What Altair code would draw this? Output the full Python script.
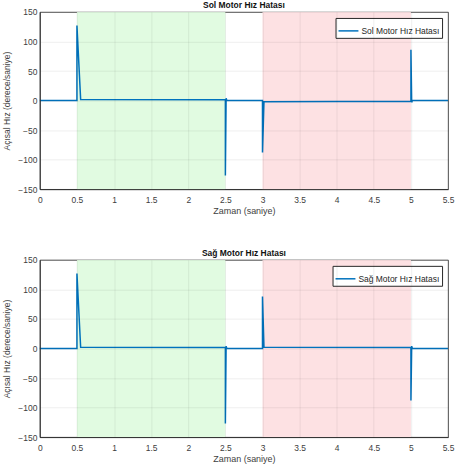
import altair as alt
import pandas as pd

# Time points and values
t_sol = [0.0, 0.5, 0.5, 0.55, 2.5, 2.5, 2.51, 2.52, 3.0, 3.0, 3.02, 5.0, 5.0, 5.01, 5.02, 5.5]
v_sol = [0.0, 0.0, 127, 2.0, 1.5, -127, 4.0, 0.0, 0.0, -88, -2.0, -1.0, 86, -3.0, 0.0, 0.0]

t_sag = [0.0, 0.5, 0.5, 0.55, 2.5, 2.5, 2.51, 2.52, 3.0, 3.0, 3.02, 5.0, 5.0, 5.01, 5.02, 5.5]
v_sag = [0.0, 0.0, 127, 2.0, 1.5, -127, 4.0, 0.0, 0.0, 88, 2.0, 1.5, -88, 4.0, 0.0, 0.0]

region_start = [0.5, 3.0]
region_end = [2.5, 5.0]
region_color = ["#e1fbe1", "#fde1e3"]

x_ticks = [0, 0.5, 1, 1.5, 2, 2.5, 3, 3.5, 4, 4.5, 5, 5.5]
y_ticks = [-150, -100, -50, 0, 50, 100, 150]

FONT = "Liberation Sans"
TXT = "#404040"

regions = pd.DataFrame({"x": region_start, "x2": region_end, "c": region_color})


def panel(title, t, v, name):
    df = pd.DataFrame({"t": t, "v": v, "s": [name] * len(t), "i": list(range(len(t)))})
    xscale = alt.Scale(domain=[0, 5.5], nice=False, zero=False)
    yscale = alt.Scale(domain=[-150, 150], nice=False)
    xaxis = alt.Axis(values=x_ticks, title="Zaman (saniye)", grid=True, labelFlush=False,
                     format="~g", tickSize=0, labelPadding=6, titlePadding=3, zindex=1)
    yaxis = alt.Axis(values=y_ticks, title="Açısal Hız (derece/saniye)", grid=True,
                     tickSize=0, labelPadding=3, titlePadding=6, zindex=1)
    rects = alt.Chart(regions).mark_rect().encode(
        x=alt.X("x:Q", scale=xscale, axis=xaxis),
        x2="x2:Q",
        y=alt.value(0),
        y2=alt.value(178),
        color=alt.Color("c:N", scale=None, legend=None),
    )
    line = alt.Chart(df).mark_line(strokeWidth=1.5, interpolate="linear").encode(
        x=alt.X("t:Q", scale=xscale, axis=xaxis),
        y=alt.Y("v:Q", scale=yscale, axis=yaxis),
        order=alt.Order("i:Q"),
        color=alt.Color("s:N", scale=alt.Scale(range=["#0072BD"]),
                        legend=alt.Legend(title=None, orient="top-right", offset=6,
                                          symbolType="stroke", symbolSize=400,
                                          symbolStrokeWidth=1.5,
                                          labelFont=FONT, labelFontSize=8.5,
                                          labelColor="#262626",
                                          strokeColor="#262626", fillColor="white",
                                          padding=2, cornerRadius=0, labelOffset=2)),
    )
    return alt.layer(rects, line).properties(
        width=410, height=178,
        title=alt.TitleParams(title, fontSize=8.5, font=FONT, fontWeight="bold",
                              color="#111111", offset=-2),
    ).resolve_scale(color="independent")


top = panel("Sol Motor Hız Hatası", t_sol, v_sol, "Sol Motor Hız Hatası")
bot = panel("Sağ Motor Hız Hatası", t_sag, v_sag, "Sağ Motor Hız Hatası")

chart = alt.vconcat(top, bot, spacing=71, bounds="flush").properties(
    padding={"left": 2, "top": 0, "right": 0, "bottom": 0},
    background="white",
).configure_view(
    stroke="#262626", strokeWidth=0.8
).configure_axis(
    labelFont=FONT, titleFont=FONT, labelFontSize=8.5, titleFontSize=9,
    labelColor=TXT, titleColor=TXT, titleFontWeight="normal",
    gridColor="#262626", gridOpacity=0.13, gridWidth=0.6,
    domainColor="#262626", domainWidth=0.8,
).configure_axisY(titleFontSize=8.5)

chart.save("out.html", embed_options={"renderer": "svg", "actions": False})
